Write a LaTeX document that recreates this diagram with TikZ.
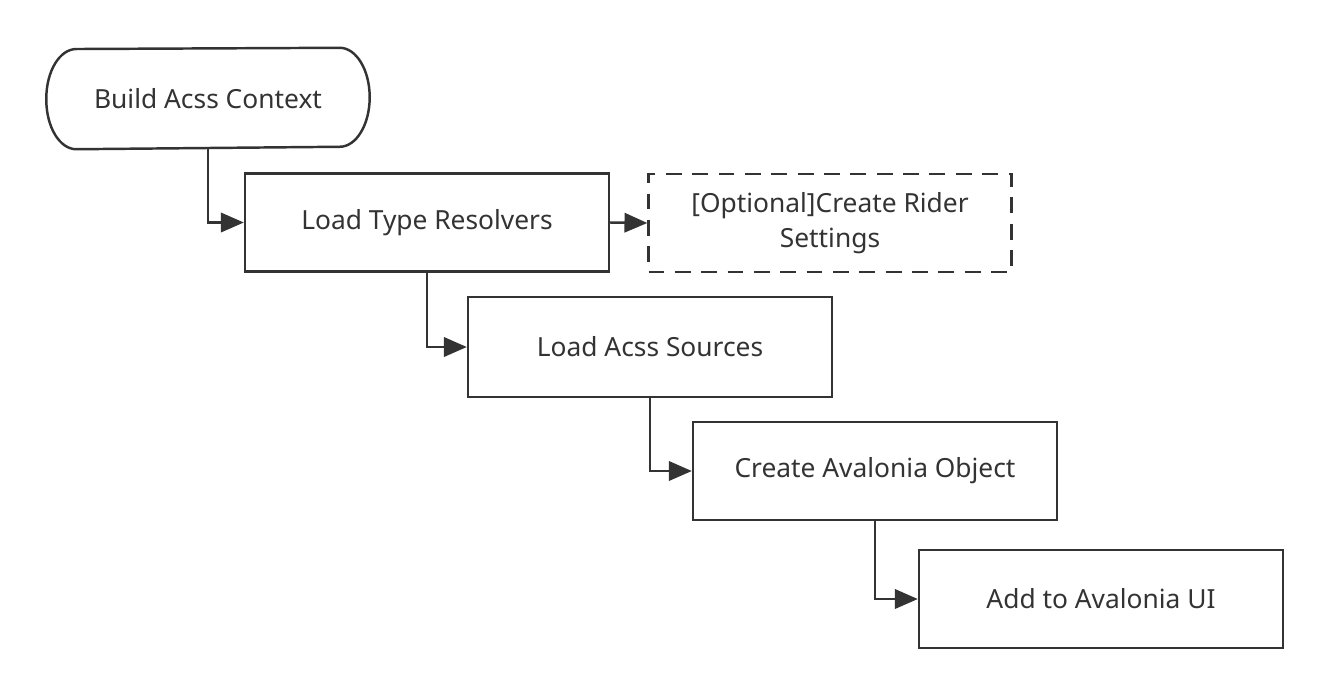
\documentclass[tikz,border=0pt]{standalone}
\usepackage{fontspec}
\setmainfont{Noto Sans}
\usetikzlibrary{arrows.meta}
\definecolor{linegray}{HTML}{333333}
\tikzset{
  proc/.style={draw=linegray, line width=1.4pt, minimum width=7.28cm, minimum height=1.96cm,
    inner sep=0pt, align=center, text=linegray, font=\fontsize{15}{20}\selectfont},
  optproc/.style={proc, dash pattern=on 9pt off 6pt},
  arr/.style={draw=linegray, line width=1.4pt, -{Triangle[length=13pt,width=11pt]}}
}
\begin{document}
\begin{tikzpicture}[x=0.02cm,y=-0.02cm]
\useasboundingbox (0,0) rectangle (1332,698);
% start node
\node[proc, draw=none, minimum width=6.42cm, minimum height=1.98cm] (ctx) at (208,98.5) {Build Acss Context};
\draw[linegray, line width=1.4pt] (ctx.west)
  arc[start angle=180, end angle=90, x radius=0.6cm, y radius=0.99cm]
  -- ([xshift=-0.6cm]ctx.north east)
  arc[start angle=90, end angle=-90, x radius=0.6cm, y radius=0.99cm]
  -- ([xshift=0.6cm]ctx.south west)
  arc[start angle=270, end angle=180, x radius=0.6cm, y radius=0.99cm] -- cycle;
% steps
\node[proc] (resolvers) at (427,222.5) {Load Type Resolvers};
\node[optproc, minimum width=7.26cm] (rider) at (830,223) {[Optional]Create Rider\\Settings};
\node[proc, minimum height=2cm] (sources) at (650,347) {Load Acss Sources};
\node[proc] (object) at (875,471) {Create Avalonia Object};
\node[proc] (ui) at (1101,599) {Add to Avalonia UI};
% connectors
\draw[arr] (ctx.south) |- (resolvers.west);
\draw[arr] (resolvers.east) -- (rider.west);
\draw[arr] (resolvers.south) |- (sources.west);
\draw[arr] (sources.south) |- (object.west);
\draw[arr] (object.south) |- (ui.west);
\end{tikzpicture}
\end{document}
